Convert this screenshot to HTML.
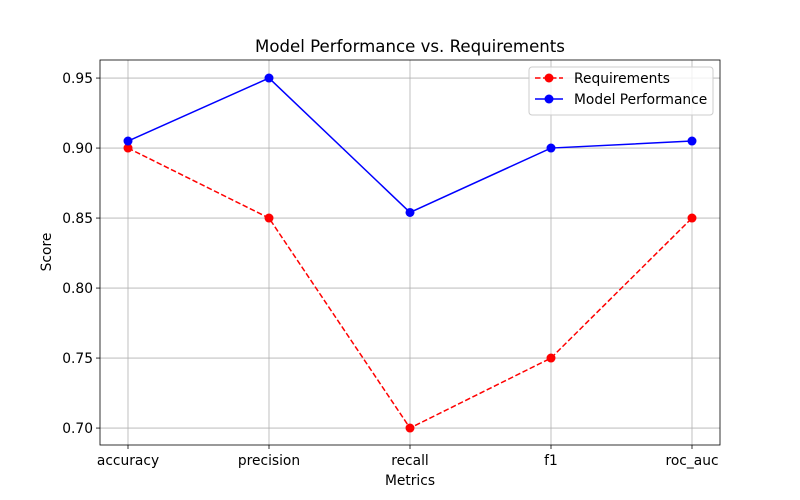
<!DOCTYPE html>
<html><head><meta charset="utf-8"><style>body{margin:0;background:#fff}svg{display:block}text{font-family:"DejaVu Sans","Liberation Sans",sans-serif;fill:#000}</style></head>
<body>
<svg id="chart" width="800" height="500"></svg>
<script>
const categories=["accuracy","precision","recall","f1","roc_auc"];
const requirements=[0.90,0.85,0.70,0.75,0.85];
const performance=[0.905,0.95,0.854,0.90,0.905];
const yTicks=[0.70,0.75,0.80,0.85,0.90,0.95];
const L=100,R=720,T=60,B=445,yMin=0.6879,yMax=0.9629;
const xs=i=>128+i*(692-128)/(categories.length-1);
const ys=v=>B-(v-yMin)/(yMax-yMin)*(B-T);
const svg=document.getElementById('chart');const NS="http://www.w3.org/2000/svg";
function el(t,a,p){const e=document.createElementNS(NS,t);for(const k in a)e.setAttribute(k,a[k]);(p||svg).appendChild(e);return e;}
const grid=el('g',{});
categories.forEach((c,i)=>{const x=xs(i);
el('line',{x1:x,x2:x,y1:T,y2:B,stroke:'#b0b0b0','stroke-width':0.8},grid);
el('line',{x1:x,x2:x,y1:B,y2:B+4,stroke:'#000','stroke-width':0.8});
const t=el('text',{x:x,y:B+20,'text-anchor':'middle','font-size':13.8});t.textContent=c;
});
yTicks.forEach(v=>{const y=ys(v);
el('line',{x1:L,x2:R,y1:y,y2:y,stroke:'#b0b0b0','stroke-width':0.8},grid);
el('line',{x1:L-4,x2:L,y1:y,y2:y,stroke:'#000','stroke-width':0.8});
const t=el('text',{x:L-7,y:y+5,'text-anchor':'end','font-size':13.8});t.textContent=v.toFixed(2);
});
function series(vals,color,dash,name){const g=el('g',{});
el('polyline',{points:vals.map((v,i)=>xs(i)+','+ys(v)).join(' '),fill:'none',stroke:color,'stroke-width':1.5,'stroke-dasharray':dash||''},g);
vals.forEach((v,i)=>{const c=el('circle',{cx:xs(i),cy:ys(v),r:4.5,fill:color},g);});}
series(requirements,'#ff0000','5.5,2.5','requirements-series');
series(performance,'#0000ff','','model-performance-series');
const f=el('rect',{x:L,y:T,width:R-L,height:B-T,fill:'none',stroke:'#000','stroke-width':0.8});
let t=el('text',{x:410,y:52,'text-anchor':'middle','font-size':16.6});t.textContent='Model Performance vs. Requirements';
t=el('text',{x:410,y:485,'text-anchor':'middle','font-size':13.8});t.textContent='Metrics';
t=el('text',{x:51,y:252,'text-anchor':'middle','font-size':13.8,transform:'rotate(-90 51 252)'});t.textContent='Score';
const lg=el('g',{});
el('rect',{x:529,y:67,width:184,height:48,rx:3,fill:'#fff','fill-opacity':0.8,stroke:'#ccc'},lg);
[['Requirements','#ff0000','5.5,2.5',78],['Model Performance','#0000ff','',99]].forEach(([n,c,d,y])=>{
const e=el('g',{},lg);
el('line',{x1:535,x2:563,y1:y,y2:y,stroke:c,'stroke-width':1.5,'stroke-dasharray':d},e);
el('circle',{cx:549,cy:y,r:4.5,fill:c},e);
const tt=el('text',{x:574,y:y+5,'font-size':13.8},e);tt.textContent=n;});
</script>
</body></html>
